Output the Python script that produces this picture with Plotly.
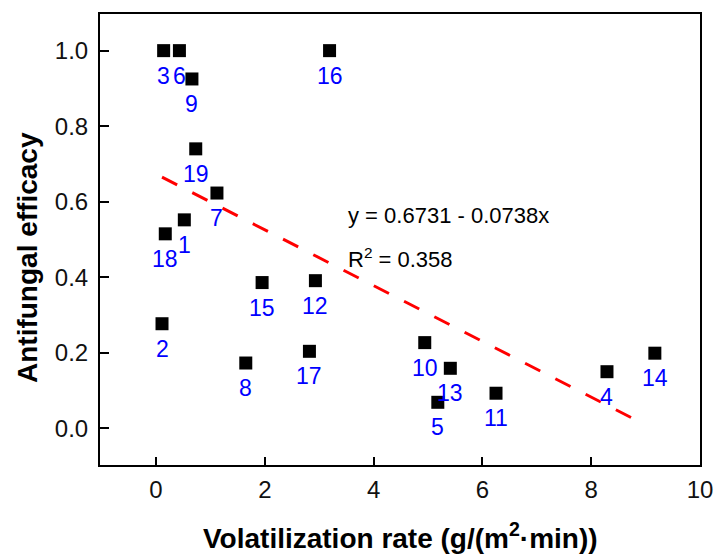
import plotly.graph_objects as go

sample_ids = ["1", "2", "3", "4", "5", "6", "7", "8", "9", "10",
              "11", "12", "13", "14", "15", "16", "17", "18", "19"]
volatilization_rate = [0.52, 0.11, 0.14, 8.29, 5.18, 0.43, 1.12, 1.65, 0.66, 4.94,
                       6.25, 2.93, 5.41, 9.17, 1.95, 3.19, 2.82, 0.17, 0.73]
antifungal_efficacy = [0.552, 0.277, 1.0, 0.150, 0.069, 1.0, 0.623, 0.173, 0.925, 0.227,
                       0.093, 0.391, 0.159, 0.199, 0.386, 1.0, 0.204, 0.515, 0.740]

fit_intercept = 0.6731
fit_slope = -0.0738
fit_r2 = 0.358
fit_x = [0.11, 8.75]
fit_y = [fit_intercept + fit_slope * v for v in fit_x]

x_ticks = [0, 2, 4, 6, 8, 10]
y_ticks = [0.0, 0.2, 0.4, 0.6, 0.8, 1.0]

FONT = "Liberation Sans, Arial, sans-serif"

fig = go.Figure()
fig.add_trace(go.Scatter(
    x=fit_x, y=fit_y, mode="lines",
    line=dict(color="#FF0000", width=3, dash="17px,17px"),
    hoverinfo="skip", showlegend=False,
))
fig.add_trace(go.Scatter(
    x=volatilization_rate, y=antifungal_efficacy, mode="markers",
    marker=dict(symbol="square", size=13, color="black", line=dict(width=0)),
    showlegend=False,
))

annotations = []
for sid, xv, yv in zip(sample_ids, volatilization_rate, antifungal_efficacy):
    annotations.append(dict(
        x=xv, y=yv, xref="x", yref="y", text=sid, showarrow=False,
        xanchor="center", yanchor="middle", yshift=-25,
        font=dict(family=FONT, size=23, color="#0000FF"),
    ))

annotations.append(dict(
    x=3.5, y=0.563, xref="x", yref="y", showarrow=False,
    text=f"y = {fit_intercept:.4f} - {abs(fit_slope):.4f}x",
    xanchor="left", yanchor="middle",
    font=dict(family=FONT, size=22, color="black"),
))
annotations.append(dict(
    x=3.5, y=0.45, xref="x", yref="y", showarrow=False,
    text=f"R<sup>2</sup> = {fit_r2:.3f}",
    xanchor="left", yanchor="middle",
    font=dict(family=FONT, size=22, color="black"),
))
annotations.append(dict(
    x=0.5, y=0, xref="paper", yref="paper", showarrow=False,
    text="<b>Volatilization rate (g/(m<sup>2</sup>·min))</b>",
    xanchor="center", yanchor="middle", yshift=-71,
    font=dict(family=FONT, size=28, color="black"),
))
annotations.append(dict(
    x=0, y=(465 - 258) / 451, xref="paper", yref="paper", showarrow=False,
    text="<b>Antifungal efficacy</b>", textangle=-90,
    xanchor="center", yanchor="middle", xshift=-73,
    font=dict(family=FONT, size=28, color="black"),
))

fig.update_layout(
    width=725, height=555,
    margin=dict(l=100, r=16, t=14, b=90),
    paper_bgcolor="white", plot_bgcolor="white",
    annotations=annotations,
    font=dict(family=FONT, color="black"),
)
fig.update_xaxes(
    range=[-1.03, 10], tickvals=x_ticks, ticktext=[str(t) for t in x_ticks],
    ticks="inside", ticklen=8, tickwidth=2, tickcolor="black",
    showline=True, linewidth=2, linecolor="black", mirror=True,
    showgrid=False, zeroline=False,
    tickfont=dict(family=FONT, size=24, color="#111111"),
    ticklabelstandoff=2,
)
fig.update_yaxes(
    range=[-0.097, 1.097], tickvals=y_ticks, ticktext=[f"{t:.1f}" for t in y_ticks],
    ticks="inside", ticklen=9, tickwidth=2, tickcolor="black",
    showline=True, linewidth=2, linecolor="black", mirror=True,
    showgrid=False, zeroline=False,
    tickfont=dict(family=FONT, size=24, color="#111111"),
    ticklabelstandoff=5,
)

fig.write_html(
    "out.html",
    config={"displayModeBar": False},
    post_script="document.body.style.margin='0';document.body.style.padding='0';",
)
